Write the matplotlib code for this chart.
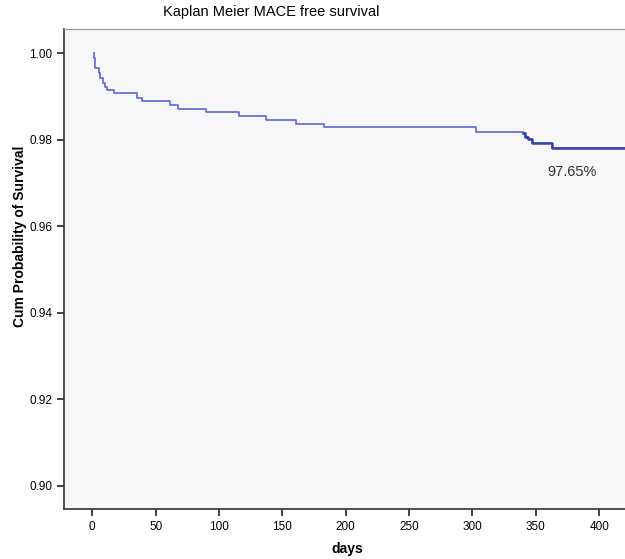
import numpy as np
import matplotlib
matplotlib.use("Agg")
import matplotlib.pyplot as plt

plt.rcParams["font.family"] = ["Liberation Sans", "DejaVu Sans"]

# --- Kaplan-Meier step data ---
days = [1, 1.5, 2, 2.5, 5, 6.5, 8.5, 10, 11.5, 17, 35, 39, 61, 67.5, 90, 116,
        137, 161, 183, 303, 340, 341.5, 343.5, 347, 363, 421]
survival = [1.0, 0.9990, 0.9978, 0.9967, 0.9954, 0.9942, 0.9931, 0.9921,
            0.9915, 0.9908, 0.9897, 0.9890, 0.9881, 0.9872, 0.9864, 0.9854,
            0.9846, 0.9837, 0.9829, 0.9819, 0.9815, 0.9807, 0.9801, 0.9793,
            0.9782, 0.9782]
final_label = "97.65%"

x_ticks = [0, 50, 100, 150, 200, 250, 300, 350, 400]
y_ticks = [0.90, 0.92, 0.94, 0.96, 0.98, 1.00]

fig = plt.figure(figsize=(6.25, 5.59), dpi=100)
ax = fig.add_axes([64 / 625, 1 - 509.3 / 559, 1 - 64 / 625, (509.3 - 29.3) / 559])
ax.set_facecolor("#f7f7f9")

days = np.array(days)
survival = np.array(survival)
ax.step(days, survival, where="post", color="#5a68d2", lw=1.2)

# the tail looks darker (dense censor marks)
late = days >= 340
ax.step(days[late], survival[late], where="post", color="#3344b0", lw=1.8)

ax.text(378.6, 0.97256, final_label, ha="center", va="center",
        fontsize=10.5, color="#333333")

ax.set_xlim(-22.3, 420.4)
ax.set_ylim(0.89454, 1.00555)
ax.set_xticks(x_ticks)
ax.set_yticks(y_ticks)
ax.set_yticklabels([f"{v:.2f}" for v in y_ticks])
ax.tick_params(axis="both", labelsize=8.5, length=5, width=1.2, color="#222222")

ax.spines["right"].set_visible(False)
ax.spines["top"].set_color("#999999")
ax.spines["left"].set_color("#333333")
ax.spines["bottom"].set_color("#333333")
ax.spines["left"].set_linewidth(1.2)
ax.spines["bottom"].set_linewidth(1.2)

fig.text(271 / 625, 1 - 12 / 559, "Kaplan Meier MACE free survival",
         ha="center", va="center", fontsize=10.5)
fig.text(347 / 625, 1 - 549 / 559, "days", ha="center", va="center",
         fontsize=10, fontweight="bold")
fig.text(20 / 625, 1 - 236 / 559, "Cum Probability of Survival", ha="center",
         va="center", rotation=90, fontsize=10, fontweight="bold")

fig.savefig("out.png", dpi=100)
